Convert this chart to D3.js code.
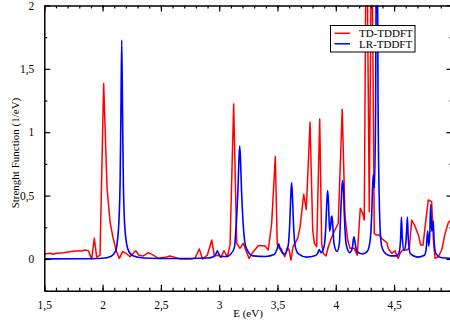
<!DOCTYPE html>
<html>
<head>
<meta charset="utf-8">
<script src="https://cdn.jsdelivr.net/npm/d3@7"></script>
<style>
  html, body { margin: 0; padding: 0; background: #fff; }
  svg { display: block; }
  text { font-family: "Liberation Serif", "Times New Roman", serif; fill: #000; }
</style>
</head>
<body>
<svg id="chart" width="450" height="325"></svg>
<script>
// Energy axis (eV) and tick values
const xMajorTicks = [1.5, 2, 2.5, 3, 3.5, 4, 4.5];
const yMajorTicks = [0, 0.5, 1, 1.5, 2];

// TD-TDDFT strength function
const tdEnergy = [
  1.500, 1.549, 1.577, 1.606, 1.663, 1.720, 1.763, 1.821, 1.849, 1.877,
  1.906, 1.929, 1.949, 1.978, 2.009, 2.038, 2.064, 2.089, 2.115, 2.143,
  2.172, 2.201, 2.235, 2.284, 2.312, 2.349, 2.392, 2.435, 2.478, 2.535,
  2.578, 2.621, 2.664, 2.750, 2.792, 2.829, 2.858, 2.898, 2.936, 2.958,
  2.992, 3.015, 3.041, 3.069, 3.093, 3.124, 3.150, 3.178, 3.207, 3.227,
  3.256, 3.292, 3.335, 3.392, 3.421, 3.450, 3.481, 3.498, 3.517, 3.531,
  3.546, 3.563, 3.584, 3.599, 3.616, 3.633, 3.650, 3.673, 3.693, 3.725,
  3.747, 3.779, 3.802, 3.816, 3.836, 3.862, 3.879, 3.892, 3.916, 3.936,
  3.956, 3.985, 4.021, 4.055, 4.079, 4.102, 4.122, 4.159, 4.184, 4.210,
  4.231, 4.244, 4.263, 4.287, 4.308, 4.330, 4.345, 4.373, 4.394, 4.437,
  4.450, 4.479, 4.508, 4.521, 4.536, 4.551, 4.574, 4.608, 4.630, 4.651,
  4.675, 4.708, 4.728, 4.748, 4.766, 4.793, 4.822, 4.837, 4.851, 4.879,
  4.908, 4.937, 4.965, 4.988
];
const tdStrength = [
  0.039, 0.045, 0.037, 0.045, 0.050, 0.058, 0.063, 0.063, 0.071, 0.066,
  0.000, 0.163, 0.015, 0.030, 1.385, 0.560, 0.290, 0.170, 0.070, 0.005,
  0.058, 0.045, 0.018, 0.065, 0.030, 0.024, 0.050, 0.030, 0.005, 0.013,
  0.024, 0.013, 0.000, 0.000, 0.005, 0.079, 0.000, 0.030, 0.150, 0.024,
  0.030, 0.013, 0.065, 0.018, 0.110, 1.222, 0.124, 0.084, 0.124, 0.071,
  0.005, 0.058, 0.105, 0.105, 0.071, 0.280, 0.807, 0.115, 0.084, 0.085,
  0.045, 0.018, 0.089, 0.075, -0.008, 0.097, 0.124, 0.163, 0.250, 0.510,
  0.390, 1.078, 0.229, 0.124, 0.097, 1.104, 0.124, 0.045, 0.024, 0.097,
  0.150, 0.215, 0.280, 1.180, 0.334, 0.150, 0.084, 0.084, 0.030, 0.400,
  0.360, 0.307, 3.000, 0.373, 2.800, 0.200, 0.190, 0.190, 0.160, 0.130,
  0.084, 0.045, 0.065, 0.030, 0.005, 0.045, 0.071, 0.071, 0.084, 0.307,
  0.268, 0.190, 0.110, 0.110, 0.255, 0.465, 0.452, 0.150, 0.005, 0.018,
  0.071, 0.200, 0.286, 0.310
];

// LR-TDDFT strength function
const lrEnergy = [
  1.500, 1.800, 2.000, 2.070, 2.110, 2.135, 2.150, 2.157, 2.164, 2.171,
  2.178, 2.193, 2.220, 2.260, 2.350, 2.600, 2.900, 2.955, 2.974, 2.984,
  2.994, 3.015, 3.060, 3.100, 3.130, 3.146, 3.161, 3.169, 3.176, 3.183,
  3.191, 3.206, 3.230, 3.290, 3.400, 3.470, 3.497, 3.510, 3.523, 3.560,
  3.590, 3.606, 3.614, 3.621, 3.628, 3.636, 3.652, 3.680, 3.750, 3.820,
  3.845, 3.858, 3.872, 3.900, 3.915, 3.923, 3.930, 3.937, 3.947, 3.957,
  3.962, 3.967, 3.973, 3.985, 4.010, 4.030, 4.044, 4.052, 4.059, 4.066,
  4.074, 4.090, 4.120, 4.140, 4.150, 4.156, 4.163, 4.180, 4.230, 4.270,
  4.295, 4.308, 4.316, 4.322, 4.332, 4.342, 4.347, 4.352, 4.357, 4.362,
  4.372, 4.385, 4.400, 4.430, 4.470, 4.520, 4.545, 4.556, 4.563, 4.570,
  4.585, 4.600, 4.607, 4.614, 4.621, 4.640, 4.700, 4.760, 4.775, 4.788,
  4.797, 4.806, 4.814, 4.822, 4.830, 4.836, 4.843, 4.860, 4.900, 5.000
];
const lrStrength = [
  0.001, 0.002, 0.006, 0.020, 0.060, 0.220, 0.600, 1.150, 1.727, 1.150,
  0.600, 0.220, 0.070, 0.025, 0.008, 0.004, 0.008, 0.020, 0.045, 0.065,
  0.045, 0.020, 0.020, 0.040, 0.090, 0.270, 0.550, 0.780, 0.891, 0.780,
  0.550, 0.270, 0.090, 0.025, 0.020, 0.035, 0.080, 0.120, 0.080, 0.040,
  0.100, 0.300, 0.500, 0.602, 0.500, 0.300, 0.100, 0.040, 0.015, 0.025,
  0.045, 0.075, 0.050, 0.100, 0.270, 0.450, 0.540, 0.450, 0.220, 0.270,
  0.330, 0.339, 0.280, 0.120, 0.060, 0.120, 0.400, 0.560, 0.618, 0.540,
  0.330, 0.110, 0.050, 0.080, 0.150, 0.176, 0.140, 0.060, 0.040, 0.060,
  0.150, 0.350, 0.580, 0.668, 0.560, 1.300, 2.400, 4.000, 2.400, 1.300,
  0.500, 0.160, 0.080, 0.040, 0.025, 0.025, 0.060, 0.170, 0.330, 0.170,
  0.070, 0.120, 0.220, 0.330, 0.170, 0.040, 0.015, 0.030, 0.080, 0.220,
  0.100, 0.200, 0.430, 0.220, 0.250, 0.300, 0.140, 0.040, 0.012, 0.005
];

const seriesNames = ["TD-TDDFT", "LR-TDDFT"];
const seriesColors = ["#ff0000", "#0000ff"];

const svg = d3.select("#chart");
svg.append("rect").attr("width", 450).attr("height", 325).attr("fill", "#fff");

const plotLeft = 44.3, plotRight = 452.4, plotTop = 5.4, plotBottom = 290.7;
const x = d3.scaleLinear().domain([1.5, 5]).range([plotLeft, plotRight]);
const y = d3.scaleLinear().domain([-0.25, 2]).range([plotBottom, plotTop]);

const fmt = d => String(d).replace(".", ",");

svg.append("clipPath").attr("id", "plot-clip")
  .append("rect").attr("x", plotLeft).attr("y", plotTop)
  .attr("width", plotRight - plotLeft).attr("height", plotBottom - plotTop);

// series lines
const plot = svg.append("g").attr("clip-path", "url(#plot-clip)");
const tdPoints = tdEnergy.map((e, i) => [e, tdStrength[i]]);
const lrPoints = lrEnergy.map((e, i) => [e, lrStrength[i]]);

plot.append("path")
  .attr("d", d3.line().x(d => x(d[0])).y(d => y(d[1]))(tdPoints))
  .attr("fill", "none").attr("stroke", seriesColors[0])
  .attr("stroke-width", 1.5).attr("stroke-linejoin", "round");

plot.append("path")
  .attr("d", d3.line().curve(d3.curveMonotoneX).x(d => x(d[0])).y(d => y(d[1]))(lrPoints))
  .attr("fill", "none").attr("stroke", seriesColors[1])
  .attr("stroke-width", 1.6).attr("stroke-linejoin", "round");

// axes: inward ticks on all four sides
const xMinor = d3.range(1.5, 5.0001, 0.1).map(v => +v.toFixed(2));
const yMinor = [-0.25, 0.25, 0.75, 1.25, 1.75];

function styleAxis(g) {
  g.select(".domain").attr("stroke", "#000").attr("stroke-width", 1.5);
  g.selectAll(".tick line").attr("stroke", "#000").attr("stroke-width", 1.2);
  g.selectAll("text").style("font-family", "'Liberation Serif', serif").style("font-size", "11.5px");
}

const gb = svg.append("g").attr("transform", `translate(0,${plotBottom})`)
  .call(d3.axisBottom(x).tickValues(xMinor).tickSize(-3).tickFormat("").tickSizeOuter(0));
styleAxis(gb);
const gb2 = svg.append("g").attr("transform", `translate(0,${plotBottom})`)
  .call(d3.axisBottom(x).tickValues(xMajorTicks).tickSize(-6).tickPadding(10).tickFormat(fmt).tickSizeOuter(0));
styleAxis(gb2);
gb2.select(".domain").remove();

const gt = svg.append("g").attr("transform", `translate(0,${plotTop})`)
  .call(d3.axisTop(x).tickValues(xMinor).tickSize(-3).tickFormat("").tickSizeOuter(0));
styleAxis(gt);
const gt2 = svg.append("g").attr("transform", `translate(0,${plotTop})`)
  .call(d3.axisTop(x).tickValues(xMajorTicks).tickSize(-6).tickFormat("").tickSizeOuter(0));
styleAxis(gt2);
gt2.select(".domain").remove();

const gl = svg.append("g").attr("transform", `translate(${plotLeft},0)`)
  .call(d3.axisLeft(y).tickValues(yMinor).tickSize(-3).tickFormat("").tickSizeOuter(0));
styleAxis(gl);
const gl2 = svg.append("g").attr("transform", `translate(${plotLeft},0)`)
  .call(d3.axisLeft(y).tickValues(yMajorTicks).tickSize(-6).tickPadding(10).tickFormat(fmt).tickSizeOuter(0));
styleAxis(gl2);
gl2.select(".domain").remove();

const gr = svg.append("g").attr("transform", `translate(${plotRight},0)`)
  .call(d3.axisRight(y).tickValues(yMinor).tickSize(-3).tickFormat("").tickSizeOuter(0));
styleAxis(gr);
const gr2 = svg.append("g").attr("transform", `translate(${plotRight},0)`)
  .call(d3.axisRight(y).tickValues(yMajorTicks).tickSize(-6).tickFormat("").tickSizeOuter(0));
styleAxis(gr2);
gr2.select(".domain").remove();

// axis titles
svg.append("text").attr("x", 248).attr("y", 316.5)
  .attr("text-anchor", "middle").style("font-size", "11px").text("E (eV)");
svg.append("text")
  .attr("transform", `translate(19,${(plotTop + plotBottom) / 2 + 5}) rotate(-90)`)
  .attr("text-anchor", "middle").style("font-size", "11px")
  .text("Strenght Function (1/eV)");

// legend
const legend = svg.append("g");
legend.append("rect").attr("x", 330.5).attr("y", 25.5).attr("width", 84.5).attr("height", 26.5)
  .attr("fill", "#fff").attr("stroke", "#000").attr("stroke-width", 1);
seriesNames.forEach((name, i) => {
  const ly = 33.3 + i * 10.5;
  legend.append("line").attr("x1", 334.5).attr("x2", 350).attr("y1", ly).attr("y2", ly)
    .attr("stroke", seriesColors[i]).attr("stroke-width", 1.5);
  legend.append("text").attr("x", 359).attr("y", ly + 3.8)
    .style("font-size", "11px").text(name);
});
</script>
</body>
</html>
